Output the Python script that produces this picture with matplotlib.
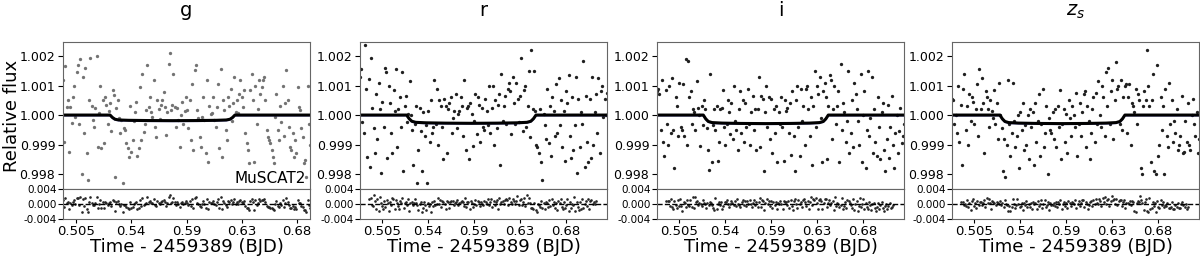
import numpy as np
import matplotlib.pyplot as plt

# band titles
bands = ["g", "r", "i", "$z_s$"]

# flux offsets from 1 (ppm) left to right
g_flux_ppm = [
    1190, -900, 1660, 280, 510, -1240, 260, -280, 620, 1000, -60, 1470, 1700, -300, 1900, -2000, 1300, -600, 1600, -1300,
    -2200, 510, 1950, 300, -170, -400, 230, 2000, -1070, 60, 1000, -1130, 500, -960, 620, 350, -300, 150, 420, -550,
    850, 680, -2090, 250, 510, -110, -620, -170, -2320, -450, -510, -960, -1130, -1410, 300, -1250, -850, -200, 100, 450,
    -1400, -1130, 960, -850, 1410, -560, -300, 170, 1700, 280, 620, 100, -50, 1190, -400, -730, 510, 200, -150, 350,
    510, 790, 280, -680, 100, 1750, 2090, 170, 340, 1410, 280, -400, 250, -170, -1070, 0, 450, -300, 150, 600,
    170, -450, 510, -850, 1070, -1190, 1520, 1700, 170, -110, -730, -1100, -60, 600, -170, -1300, 1190, -1580, 300, 50,
    60, 620, -170, -400, 280, 1070, -1130, 1580, -1410, 510, 170, -510, -850, 620, 300, 900, -200, 400, 1300, 100,
    510, 60, 730, 1190, 620, 280, 850, -620, -960, -1190, -1640, 850, 1410, 510, -1580, 1000, -300, 200, 1200, 700,
    960, 1190, 1300, 510, -510, -730, -850, -960, -1190, -1410, -1640, -60, 730, -510, -850, 300, -250, 1000, -700, 400,
    1520, 510, -400, -1070, -1190, -620, -1410, -850, -1300, 960, 280, 170, -450, -730, -1640, -1520, -2090, 1000, -300, -1000,
]
r_flux_ppm = [
    1300, 1580, -230, -620, 2370, 900, -1410, 1240, -1750, 1920, 250, -450, -1300, 700, -800, 1100, 200, -1980, 450, -400,
    1600, 1450, -1450, 1000, 400, -600, -1300, 850, 150, 1550, -1100, 200, 600, -400, 1450, -1900, 300, 650, -250, 50,
    1150, 0, -500, -1700, -300, 300, -2300, -1200, 250, -550, -1900, 100, -700, -350, -2300, 150, -900, 500, -600, -400,
    1200, -300, 900, -1000, 500, 300, -400, -1500, 550, 300, -1300, 200, 400, 600, -600, -100, 150, 700, -450, 50,
    150, 600, 300, -700, 1200, -1200, 250, 300, -1500, 400, 50, -1050, -200, 700, -650, 600, 350, -900, 250, -400,
    -500, 550, 150, -350, 1000, -600, 250, 1000, -1000, 500, -450, 350, 700, -1700, 1400, -200, 300, 650, -300, 900,
    1100, 800, -650, 1300, 400, -300, 1100, 550, -250, 650, 1950, -550, 850, 1000, -400, 300, 1500, -750, 2200, 200,
    1500, 150, -1000, -1100, -1300, 200, -1600, -2200, 50, -350, -800, 900, -950, 300, -1400, 600, 150, -700, 1050, -600,
    1250, -350, 500, -1100, 150, -1550, 800, 400, 1350, -700, -1450, 600, -1200, -350, 1300, -1950, 550, -1100, 100, -300,
    1850, -1750, 650, -900, -1600, 550, -1450, 1300, -1000, 100, 700, -600, 1250, -1300, 800, 1000, -50, 550, 0, 750,
]
i_flux_ppm = [
    800, 900, 700, -500, 1200, -900, -1400, 850, -300, -1000, 1000, -600, 1250, -500, -1800, 600, 300, -700, 1100, -400,
    -500, 1050, -700, 1900, -1000, 1850, 600, 800, -300, 200, 100, -500, 1150, 250, 0, -1050, 300, -350, 500, 200,
    -450, -1200, -1850, 1400, -1600, -350, 200, -500, 300, -1550, -900, 200, 250, 850, -400, -1000, -300, 500, 100, -650,
    400, -800, 1000, -200, -500, -1200, 200, 800, -600, 500, -900, 400, -400, 900, -300, -1000, 100, 650, -500, 200,
    -1200, 200, 1300, -1100, 650, 550, -1900, 100, 1000, -400, 600, -800, 550, -1300, 200, -600, 300, -1600, 100, -300,
    600, -400, -1550, 500, 150, 250, -600, 400, -1350, 800, -700, -1900, 500, 1000, -400, -1400, 900, -200, 300, -1000,
    900, 1000, 200, -700, 600, -1700, 300, 1500, -400, 1000, 700, 1300, -100, -1600, 800, 1100, 600, -1500, 300, 1350,
    1200, -800, 200, 1000, -300, 300, 800, -1600, 1750, -500, 400, 100, -900, -200, 1500, -1300, -600, 500, -1100, 1100,
    700, 200, -200, -1000, 1400, -1600, 0, 800, -1800, -500, 1500, -700, -100, 1300, -1300, 200, -900, -1400, 600, -400,
    -1500, 100, 400, -1200, -1900, -800, 350, -1450, -400, 650, -1000, -1800, -600, 0, -1300, -550, 250, -950, -700, -300,
]
zs_flux_ppm = [
    550, 500, -300, 0, -600, 1000, -900, 350, -1700, 900, 1400, -500, 300, -1000, 700, -200, 600, 450, -300, 200,
    1050, -700, 1550, 200, 1250, 400, -1300, 800, 600, 200, -400, 500, 150, -100, 850, -300, 400, -800, 1100, 0,
    -450, -1900, -800, -2100, -1000, 1200, -300, -1400, -600, 1100, -200, -1100, -700, 0, -1800, 100, -500, 400, -1200, -350,
    -1000, 0, -1500, 200, -400, 100, -1700, 400, -900, -200, 700, -1400, -300, 900, -1100, -600, 300, -2000, -100, -500,
    -600, 100, -800, 200, -1100, 300, -400, 850, -1500, -300, 200, -900, 50, -1300, 500, -100, -700, 300, 0, -400,
    750, -1400, -300, 400, -700, 100, 700, 800, -1100, 300, -200, -1500, -600, 200, 600, -900, 750, -300, 1150, 0,
    -400, 1000, 600, -700, 1450, 300, 1600, -300, 800, 1200, -800, 500, 1800, 900, 1000, -300, 1200, -500, 600, 1000,
    1050, -600, 600, 1050, -1000, 400, 300, 100, 900, -300, 700, 500, -1800, -2000, 300, 800, 500, 2200, 1000, 300,
    -1600, 500, 1400, -1900, -2000, 1700, -1400, -1000, 600, -500, 300, -2000, 900, -700, -1100, 1100, -300, 500, -900, -200,
    -600, 200, -1200, -1000, -700, 650, -1300, -1250, -200, -900, 400, -1000, -1200, 0, 550, -300, -700, 100, -1300, -800,
]
flux_ppm = [g_flux_ppm, r_flux_ppm, i_flux_ppm, zs_flux_ppm]

# observation window (BJD - 2459389)
time_start = [0.4946, 0.4935, 0.4935, 0.4935]
time_end = [0.6904, 0.7085, 0.7085, 0.7085]

# transit model: contact times and depth
ingress = [0.5319, 0.5341, 0.5338, 0.5352]
egress = [0.6309, 0.6467, 0.6426, 0.6440]
depth_ppm = [190, 280, 290, 290]
# model profile inside transit (fraction of duration, fraction of depth)
shape_phase = [0.0, 0.02, 0.04, 0.07, 0.15, 0.3, 0.5, 0.7, 0.85, 0.93, 0.96, 0.98, 1.0]
shape_depth = [0.0, 0.45, 0.75, 0.88, 0.94, 0.98, 1.0, 0.98, 0.94, 0.88, 0.75, 0.45, 0.0]

xtick_labels = ["0.505", "0.54", "0.59", "0.63", "0.68"]

fig = plt.figure(figsize=(12, 2.58), dpi=100)

lefts = [63, 360, 657, 952]
W, H = 1200, 258
for k in range(4):
    x0 = lefts[k] / W
    ax = fig.add_axes([x0, (H - 189) / H, 247 / W, 147 / H])
    axr = fig.add_axes([x0, (H - 219) / H, 247 / W, 30 / H])

    n = len(flux_ppm[k])
    t = np.linspace(time_start[k], time_end[k], n)
    flux = 1 + np.array(flux_ppm[k]) * 1e-6

    mt = ingress[k] + np.array(shape_phase) * (egress[k] - ingress[k])
    mt = np.concatenate([[time_start[k]], mt, [time_end[k]]])
    mf = 1 - np.concatenate([[0], shape_depth, [0]]) * depth_ppm[k] * 1e-6
    model_at_t = np.interp(t, mt, mf)
    resid = flux - model_at_t

    pcol = "0.45" if k == 0 else "0.12"
    ax.plot(t, flux, "o", ms=2.4, color=pcol, mec="none")
    ax.plot(mt, mf - 2.5e-5, color="#3b3bd0", lw=1.2, alpha=0.5)
    ax.plot(mt, mf, color="k", lw=2.2)
    ax.set_xlim(time_start[k], time_end[k])
    ax.set_ylim(0.99749, 1.00248)
    ax.set_yticks([0.998, 0.999, 1.000, 1.001, 1.002])
    ax.set_yticklabels(["0.998", "0.999", "1.000", "1.001", "1.002"], fontsize=9)
    ax.tick_params(bottom=False, labelbottom=False, pad=2)
    ax.set_title(bands[k], fontsize=14, pad=19)

    axr.plot(t, resid, "o", ms=1.9, color="0.15", mec="none")
    axr.axhline(0, color="k", lw=1, ls="--")
    axr.set_ylim(-0.004, 0.004)
    axr.set_yticks([-0.004, 0.0, 0.004])
    axr.set_yticklabels(["-0.004", "0.000", "0.004"], fontsize=7.5)
    if k == 0:
        axr.set_xlim(time_start[k], time_end[k])
    else:
        axr.set_xlim(0.4845, 0.7190)
    axr.set_xticks(np.linspace(0.505, 0.68, 5))
    axr.set_xticklabels(xtick_labels, fontsize=9.5)
    axr.tick_params(axis="x", length=3, pad=1.5)
    axr.tick_params(axis="y", pad=1)
    axr.set_xlabel("Time - 2459389 (BJD)", fontsize=13, labelpad=0)

    for a in (ax, axr):
        for s in a.spines.values():
            s.set_color("0.4")

    if k == 0:
        ax.set_ylabel("Relative flux", fontsize=13)
        ax.yaxis.set_label_coords(-0.17, 0.5)
        ax.text(0.985, 0.02, "MuSCAT2", transform=ax.transAxes,
                ha="right", va="bottom", fontsize=11)

fig.savefig("out.png", dpi=100)
